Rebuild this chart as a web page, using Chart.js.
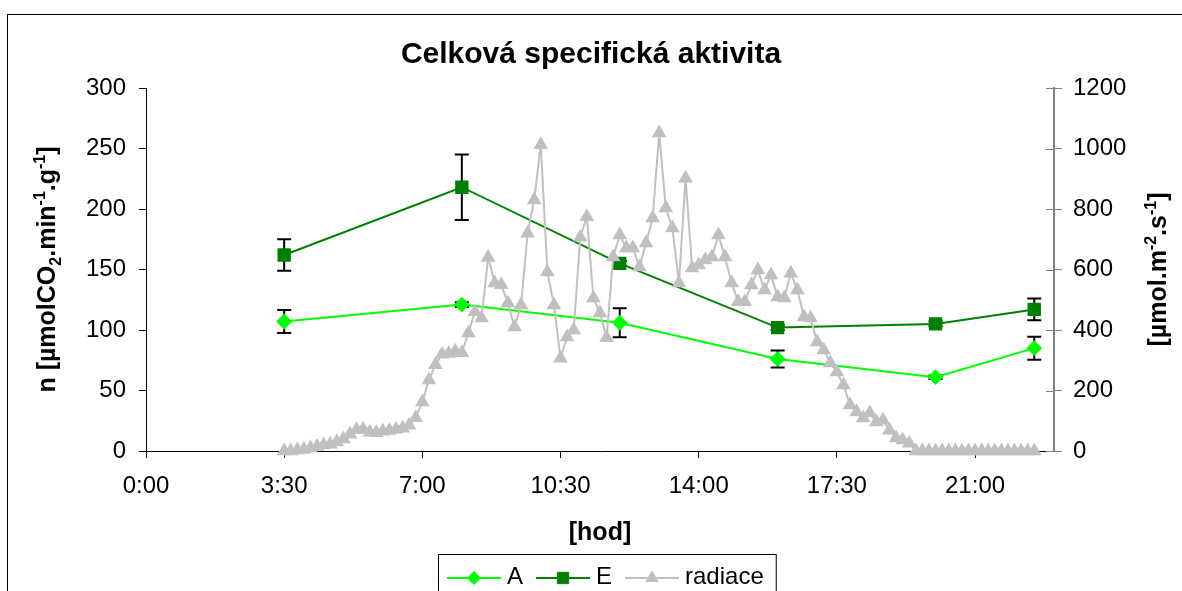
<!DOCTYPE html>
<html>
<head>
<meta charset="utf-8">
<title>Celková specifická aktivita</title>
<script src="https://cdn.jsdelivr.net/npm/chart.js"></script>
<style>
  html, body { margin: 0; padding: 0; background: #fff; }
  #wrap { width: 1182px; height: 591px; }
</style>
</head>
<body>
<div id="wrap"><canvas id="chart" width="1182" height="591"></canvas></div>
<script>
const FONT = "'Liberation Sans', Arial, sans-serif";

// sampling times of A and E (h:mm)
const sampleTimes = ["3:30", "8:00", "12:00", "16:00", "20:00", "22:30"];
const seriesA = [107, 121, 106, 76, 61, 85];
const errA = [9.5, 2, 12, 7, 1.5, 9.5];
const seriesE = [162, 218, 155, 102, 105, 117];
const errE = [13, 27, 2, 2, 2, 9];

// radiation readings, every 10 minutes
const radTimes = (
  "3:30 3:40 3:50 4:00 4:10 4:20 4:30 4:40 4:50 5:00 5:10 5:20 5:30 5:40 5:50 " +
  "6:00 6:10 6:20 6:30 6:40 6:50 7:00 7:10 7:20 7:30 7:40 7:50 8:00 8:10 8:20 8:30 8:40 8:50 " +
  "9:00 9:10 9:20 9:30 9:40 9:50 10:00 10:10 10:20 10:30 10:40 10:50 11:00 11:10 11:20 11:30 11:40 11:50 " +
  "12:00 12:10 12:20 12:30 12:40 12:50 13:00 13:10 13:20 13:30 13:40 13:50 14:00 14:10 14:20 14:30 14:40 14:50 " +
  "15:00 15:10 15:20 15:30 15:40 15:50 16:00 16:10 16:20 16:30 16:40 16:50 17:00 17:10 17:20 17:30 17:40 17:50 " +
  "18:00 18:10 18:20 18:30 18:40 18:50 19:00 19:10 19:20 19:30 19:40 19:50 20:00 20:10 20:20 20:30 20:40 20:50 " +
  "21:00 21:10 21:20 21:30 21:40 21:50 22:00 22:10 22:20 22:30"
).split(" ");
const radiace = [
  0, 0, 3, 5, 10, 15, 20, 22, 30, 40,
  55, 70, 72, 62, 60, 65, 68, 72, 75, 85,
  110, 162, 235, 285, 320, 322, 330, 325, 390, 460,
  440, 640, 555, 550, 489, 410, 483, 720, 830, 1012,
  592, 483, 307, 377, 400, 707, 774, 506, 456, 374,
  641, 714, 671, 671, 608, 688, 770, 1051, 803, 737,
  555, 902, 605, 615, 631, 641, 714, 641, 555, 493,
  493, 549, 598, 532, 582, 509, 506, 588, 532, 443,
  440, 360, 334, 291, 261, 218, 152, 129, 109, 126,
  96, 102, 69, 43, 36, 26, 0, 0, 0, 0,
  0, 0, 0, 0, 0, 0, 0, 0, 0, 0,
  0, 0, 0, 0, 0
];

const xTickLabels = ["0:00", "3:30", "7:00", "10:30", "14:00", "17:30", "21:00"];
const xMax = "23:00";

const chartTitle = "Celková specifická aktivita";
const xTitle = "[hod]";
const yTitle = [["n ["], ["µ"], ["molCO"], ["2", "sub"], [".min"], ["-1", "sup"], [".g"], ["-1", "sup"], ["]"]];
const y2Title = [["["], ["µ"], ["mol.m"], ["-2", "sup"], [".s"], ["-1", "sup"], ["]"]];

function toHours(s) {
  const [h, m] = s.split(":").map(Number);
  return h + m / 60;
}
function fmtTime(v) {
  const h = Math.floor(v + 1e-6);
  const m = Math.round((v - h) * 60);
  return h + ":" + String(m).padStart(2, "0");
}

const sampleHours = sampleTimes.map(toHours);
const legendItems = [
  { label: "A", color: "#00ff00", pointStyle: "rectRot", radius: 6.5 },
  { label: "E", color: "#008000", pointStyle: "rect", radius: 8 },
  { label: "radiace", color: "#c0c0c0", pointStyle: "triangle", radius: 7 },
];

function drawRich(ctx, parts, size, x, y, rotated) {
  const fontFor = (p) => "bold " + (p[1] ? Math.round(size * 0.62) : size) + "px " + FONT;
  ctx.save();
  let total = 0;
  parts.forEach((p) => {
    ctx.font = fontFor(p);
    total += ctx.measureText(p[0]).width;
  });
  ctx.translate(x, y);
  if (rotated) ctx.rotate(-Math.PI / 2);
  ctx.fillStyle = "#000";
  ctx.textBaseline = "alphabetic";
  ctx.textAlign = "left";
  let pos = -total / 2;
  parts.forEach((p) => {
    ctx.font = fontFor(p);
    const dy = p[1] === "sup" ? -size * 0.4 : p[1] === "sub" ? size * 0.22 : 0;
    ctx.fillText(p[0], pos, dy);
    pos += ctx.measureText(p[0]).width;
  });
  ctx.restore();
}

const framePlugin = {
  id: "frame",
  beforeDraw(chart) {
    const ctx = chart.ctx;
    ctx.save();
    ctx.fillStyle = "#fff";
    ctx.fillRect(0, 0, chart.width, chart.height);
    ctx.strokeStyle = "#000";
    ctx.lineWidth = 1;
    ctx.strokeRect(7.5, 14.5, chart.width + 20, chart.height + 20);
    ctx.restore();
  },
};

const errorBarPlugin = {
  id: "errorBars",
  beforeDatasetsDraw(chart) {
    const { ctx, scales } = chart;
    const x = scales.x, y = scales.y;
    ctx.save();
    ctx.strokeStyle = "#000";
    ctx.lineWidth = 2;
    [[seriesA, errA], [seriesE, errE]].forEach(([vals, errs]) => {
      vals.forEach((v, i) => {
        const px = x.getPixelForValue(sampleHours[i]);
        const top = y.getPixelForValue(v + errs[i]);
        const bot = y.getPixelForValue(v - errs[i]);
        ctx.beginPath();
        ctx.moveTo(px, top);
        ctx.lineTo(px, bot);
        ctx.moveTo(px - 7, top);
        ctx.lineTo(px + 7, top);
        ctx.moveTo(px - 7, bot);
        ctx.lineTo(px + 7, bot);
        ctx.stroke();
      });
    });
    // inner half of the cross ticks on the right axis
    const y2 = scales.y2;
    ctx.strokeStyle = "#808080";
    ctx.lineWidth = 1;
    y2.ticks.forEach((t) => {
      const py = Math.round(y2.getPixelForValue(t.value)) + 0.5;
      ctx.beginPath();
      ctx.moveTo(y2.left - 8, py);
      ctx.lineTo(y2.left, py);
      ctx.stroke();
    });
    ctx.restore();
  },
};

const titlesPlugin = {
  id: "titles",
  afterDraw(chart) {
    const { ctx, chartArea } = chart;
    const midY = (chartArea.top + chartArea.bottom) / 2;
    drawRich(ctx, yTitle, 25, 55, midY, true);
    drawRich(ctx, y2Title, 25, 1166, midY, true);

    ctx.save();
    ctx.fillStyle = "#000";
    ctx.font = "bold 25px " + FONT;
    ctx.textAlign = "center";
    ctx.textBaseline = "middle";
    ctx.fillText(xTitle, (chartArea.left + chartArea.right) / 2, 533);

    // legend
    ctx.font = "24px " + FONT;
    ctx.textAlign = "left";
    ctx.textBaseline = "alphabetic";
    let widths = legendItems.map((it) => ctx.measureText(it.label).width);
    let total = 9 + legendItems.reduce((s, it, i) => s + 60 + widths[i] + 13, 0) - 1;
    const boxLeft = Math.round(607 - total / 2);
    const boxTop = 554;
    ctx.strokeStyle = "#000";
    ctx.lineWidth = 1;
    ctx.strokeRect(boxLeft + 0.5, boxTop + 0.5, total, 60);
    let lx = boxLeft + 9;
    const ly = 578;
    legendItems.forEach((it, i) => {
      ctx.strokeStyle = it.color;
      ctx.fillStyle = it.color;
      ctx.lineWidth = 2;
      ctx.beginPath();
      ctx.moveTo(lx, ly);
      ctx.lineTo(lx + 54, ly);
      ctx.stroke();
      ctx.lineWidth = 1;
      Chart.helpers.drawPoint(ctx, { pointStyle: it.pointStyle, radius: it.radius, rotation: 0, borderWidth: 1 }, lx + 27, ly);
      ctx.fillStyle = "#000";
      ctx.fillText(it.label, lx + 60, 584);
      lx += 60 + widths[i] + 13;
    });
    ctx.restore();
  },
};

const ctx = document.getElementById("chart").getContext("2d");

new Chart(ctx, {
  type: "line",
  data: {
    datasets: [
      {
        label: "radiace",
        data: radTimes.map((t, i) => ({ x: toHours(t), y: radiace[i] })),
        yAxisID: "y2",
        borderColor: "#c0c0c0",
        backgroundColor: "#c0c0c0",
        pointBackgroundColor: "#c0c0c0",
        pointBorderColor: "#c0c0c0",
        pointStyle: "triangle",
        pointRadius: 6.5,
        borderWidth: 2,
        tension: 0,
        clip: false,
      },
      {
        label: "E",
        data: sampleHours.map((h, i) => ({ x: h, y: seriesE[i] })),
        yAxisID: "y",
        borderColor: "#008000",
        backgroundColor: "#008000",
        pointBackgroundColor: "#008000",
        pointBorderColor: "#008000",
        pointStyle: "rect",
        pointRadius: 8,
        borderWidth: 2,
        tension: 0,
        clip: false,
      },
      {
        label: "A",
        data: sampleHours.map((h, i) => ({ x: h, y: seriesA[i] })),
        yAxisID: "y",
        borderColor: "#00ff00",
        backgroundColor: "#00ff00",
        pointBackgroundColor: "#00ff00",
        pointBorderColor: "#00ff00",
        pointStyle: "rectRot",
        pointRadius: 6.5,
        borderWidth: 2,
        tension: 0,
        clip: false,
      },
    ],
  },
  options: {
    responsive: false,
    animation: false,
    devicePixelRatio: 1,
    layout: { padding: 0 },
    font: { family: FONT },
    plugins: {
      legend: { display: false },
      tooltip: { enabled: false },
      title: {
        display: true,
        text: chartTitle,
        color: "#000",
        font: { family: FONT, size: 30, weight: "bold", lineHeight: 1.2 },
        padding: { top: 37, bottom: 15 },
      },
    },
    scales: {
      x: {
        type: "linear",
        min: 0,
        max: toHours(xMax),
        afterBuildTicks: (scale) => {
          scale.ticks = xTickLabels.map((s) => ({ value: toHours(s) }));
        },
        afterFit: (scale) => {
          scale.height = 140;
        },
        ticks: {
          color: "#000",
          font: { family: FONT, size: 24 },
          padding: 14,
          maxRotation: 0,
          autoSkip: false,
          callback: (v) => fmtTime(v),
        },
        grid: { display: true, drawOnChartArea: false, drawTicks: true, tickLength: 7, color: "#000" },
        border: { display: true, color: "#000", width: 1 },
      },
      y: {
        position: "left",
        min: 0,
        max: 300,
        afterFit: (scale) => {
          scale.width = 146;
        },
        ticks: { stepSize: 50, color: "#000", font: { family: FONT, size: 24 }, padding: 13 },
        grid: { display: true, drawOnChartArea: false, drawTicks: true, tickLength: 7, color: "#000" },
        border: { display: true, color: "#000", width: 1 },
      },
      y2: {
        position: "right",
        min: 0,
        max: 1200,
        afterFit: (scale) => {
          scale.width = 128;
        },
        ticks: {
          stepSize: 200,
          color: "#000",
          font: { family: FONT, size: 24 },
          padding: 11,
          callback: (v) => String(v),
        },
        grid: { display: true, drawOnChartArea: false, drawTicks: true, tickLength: 8, color: "#808080" },
        border: { display: true, color: "#808080", width: 2 },
      },
    },
  },
  plugins: [framePlugin, errorBarPlugin, titlesPlugin],
});
</script>
</body>
</html>
